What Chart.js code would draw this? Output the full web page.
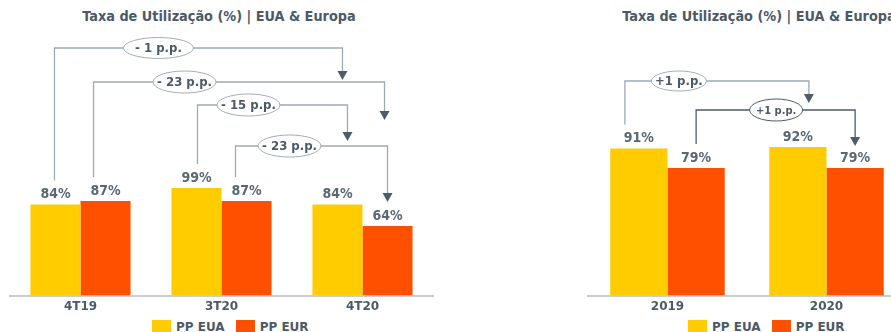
<!DOCTYPE html>
<html>
<head>
<meta charset="utf-8">
<script src="https://cdn.jsdelivr.net/npm/chart.js"></script>
<style>
  body { margin: 0; width: 891px; height: 332px; overflow: hidden; background: #fff; position: relative; font-family: "DejaVu Sans", sans-serif; }
  canvas { position: absolute; top: 0; }
  .title { position: absolute; top: 8px; font-family: "DejaVu Sans Condensed", "DejaVu Sans", sans-serif; font-weight: bold; font-size: 14.3px; color: #4b5968; white-space: nowrap; transform: translateX(-50%); }
  .legend { position: absolute; top: 320px; font-weight: bold; font-size: 12px; color: #4b5968; white-space: nowrap; }
  .legend span { display: inline-block; vertical-align: top; }
  .legend .sw { width: 19px; height: 16px; margin-right: 5px; }
  .legend .txt { margin-right: 11px; line-height: 14px; }
</style>
</head>
<body>
<div class="title" style="left:219px">Taxa de Utilização (%) | EUA &amp; Europa</div>
<div class="title" style="left:759px">Taxa de Utilização (%) | EUA &amp; Europa</div>
<canvas id="quarterChart" width="445" height="318" style="left:0"></canvas>
<canvas id="yearChart" width="360" height="318" style="left:560px"></canvas>
<div class="legend" id="legendLeft" style="left:152px"></div>
<div class="legend" id="legendRight" style="left:688px"></div>
<script>
// data
const seriesNames = ['PP EUA', 'PP EUR'];
const quarters = ['4T19', '3T20', '4T20'];
const quarterEUA = [84, 99, 84];
const quarterEUR = [87, 87, 64];
const years = ['2019', '2020'];
const yearEUA = [91, 92];
const yearEUR = [79, 79];
const quarterDeltas = ['- 1 p.p.', '- 23 p.p.', '- 15 p.p.', '- 23 p.p.'];
const yearDeltas = ['+1 p.p.', '+1 p.p.'];

const colors = ['#FFCC00', '#FF5000'];
const textColor = '#4b5968';
const lightLine = '#9eaab3';
const darkLine = '#4d5c69';

// legends
['legendLeft', 'legendRight'].forEach(function (id) {
    const el = document.getElementById(id);
    seriesNames.forEach(function (name, i) {
        el.innerHTML += '<span class="sw" style="background:' + colors[i] + '"></span><span class="txt">' + name + '</span>';
    });
});

// value labels + bracket arrows
const notes = {
    id: 'notes',
    afterDraw(chart, args, opts) {
        const ctx = chart.ctx;
        const metas = [chart.getDatasetMeta(0), chart.getDatasetMeta(1)];
        ctx.save();
        ctx.font = 'bold 14px "DejaVu Sans Condensed", "DejaVu Sans"';
        ctx.fillStyle = '#5a6774';
        ctx.textAlign = 'center';
        ctx.textBaseline = 'bottom';
        chart.data.datasets.forEach(function (ds, d) {
            metas[d].data.forEach(function (bar, i) {
                ctx.fillText(ds.data[i] + '%', bar.x, bar.y - 3);
            });
        });

        opts.links.forEach(function (l) {
            const a = metas[l.from[0]].data[l.from[1]];
            const b = metas[l.to[0]].data[l.to[1]];
            const x1 = a.x + l.from[2], x2 = b.x + l.to[2];
            const y0 = a.y - 24;
            ctx.strokeStyle = l.line;
            ctx.lineWidth = 1.3;
            ctx.beginPath();
            ctx.moveTo(x1, y0);
            ctx.lineTo(x1, l.level);
            ctx.lineTo(x2, l.level);
            ctx.lineTo(x2, l.tip - 8);
            ctx.stroke();
            ctx.fillStyle = darkLine;
            ctx.beginPath();
            ctx.moveTo(x2 - 5, l.tip - 9);
            ctx.lineTo(x2 + 5, l.tip - 9);
            ctx.lineTo(x2, l.tip);
            ctx.closePath();
            ctx.fill();

            const cx = x1 + l.dx;
            ctx.beginPath();
            ctx.ellipse(cx, l.level, l.w / 2, l.h / 2, 0, 0, Math.PI * 2);
            ctx.fillStyle = '#fff';
            ctx.fill();
            ctx.lineWidth = 1;
            ctx.strokeStyle = l.ring;
            ctx.stroke();
            ctx.fillStyle = textColor;
            ctx.font = l.font;
            ctx.textBaseline = 'middle';
            ctx.fillText(l.text, cx, l.level + 1);
        });
        ctx.restore();
    }
};

function makeChart(id, labels, eua, eur, pad, pct, links) {
    return new Chart(document.getElementById(id), {
        type: 'bar',
        data: {
            labels: labels,
            datasets: [
                { label: seriesNames[0], data: eua, backgroundColor: colors[0], categoryPercentage: pct, barPercentage: 1 },
                { label: seriesNames[1], data: eur, backgroundColor: colors[1], categoryPercentage: pct, barPercentage: 1 }
            ]
        },
        options: {
            responsive: false,
            animation: false,
            layout: { padding: pad },
            plugins: {
                legend: { display: false },
                tooltip: { enabled: false },
                notes: { links: links }
            },
            scales: {
                x: {
                    grid: { display: false, drawTicks: false },
                    border: { color: '#c8cdd2', width: 2 },
                    ticks: { font: { family: 'DejaVu Sans', weight: 'bold', size: 12 }, color: textColor, padding: 4 }
                },
                y: { display: false, min: 0, max: 100 }
            }
        },
        plugins: [notes]
    });
}

const smallFont = 'bold 13px "DejaVu Sans Condensed", "DejaVu Sans"';

makeChart('quarterChart', quarters, quarterEUA, quarterEUR,
    { top: 187, left: 10, right: 12, bottom: 0 }, 0.71, [
        { from: [0, 0, -1], to: [0, 2, 5], level: 48, tip: 80, dx: 104, w: 70, h: 21, text: quarterDeltas[0], line: lightLine, ring: '#a3adb5', font: smallFont },
        { from: [1, 0, -12], to: [1, 2, -3], level: 82, tip: 120, dx: 91, w: 63, h: 22, text: quarterDeltas[1], line: lightLine, ring: '#a3adb5', font: smallFont },
        { from: [0, 1, 1], to: [0, 2, 10], level: 105, tip: 141, dx: 51, w: 63, h: 22, text: quarterDeltas[2], line: lightLine, ring: '#a3adb5', font: smallFont },
        { from: [1, 1, -11], to: [1, 2, 0], level: 146, tip: 202, dx: 54, w: 63, h: 22, text: quarterDeltas[3], line: lightLine, ring: '#a3adb5', font: smallFont }
    ]);

makeChart('yearChart', years, yearEUA, yearEUR,
    { top: 134, left: 28, right: 14, bottom: 0 }, 0.72, [
        { from: [0, 0, -14], to: [0, 1, 11], level: 81, tip: 103, dx: 54, w: 55, h: 20, text: yearDeltas[0], line: lightLine, ring: '#a3adb5', font: smallFont },
        { from: [1, 0, 0], to: [1, 1, 0], level: 110, tip: 146, dx: 80, w: 53, h: 22, text: yearDeltas[1], line: darkLine, ring: darkLine, font: 'bold 11px "DejaVu Sans Condensed", "DejaVu Sans"' }
    ]);
</script>
</body>
</html>
